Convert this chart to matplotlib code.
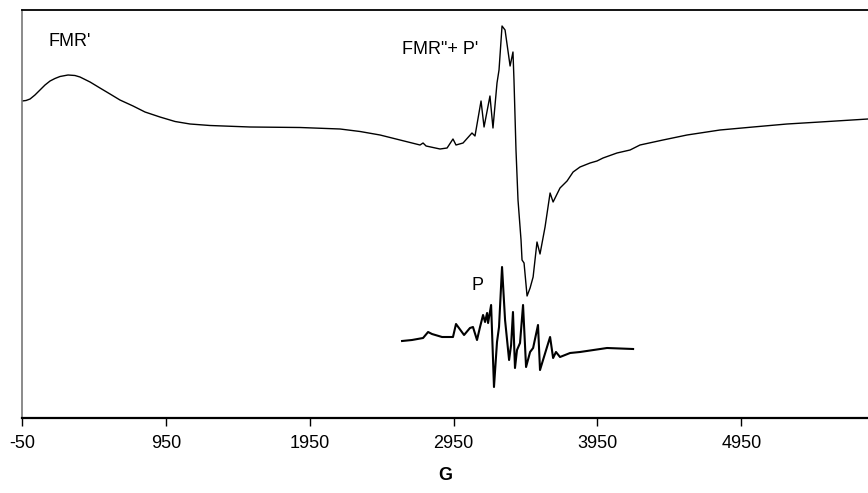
import matplotlib
matplotlib.use("Agg")
import matplotlib.pyplot as plt

# Main spectrum (FMR'' + P') : field (G) and intensity (arb. units)
main_field = [-50, -22, 6, 40, 75, 110, 145, 179, 214, 270, 318, 353, 388, 423,
              492, 562, 631, 722, 805, 909, 1014, 1118, 1257, 1535, 1883, 2161,
              2300, 2439, 2578, 2717, 2738, 2759, 2856, 2905, 2946, 2967, 3016,
              3078, 3099, 3141, 3162, 3203, 3224, 3252, 3266, 3287, 3308, 3343,
              3363, 3370, 3384, 3398, 3419, 3426, 3440, 3461, 3482, 3503, 3530,
              3551, 3586, 3621, 3642, 3690, 3739, 3781, 3829, 3899, 3947, 3989,
              4086, 4177, 4246, 4406, 4573, 4802, 5032, 5268, 5498, 5831]
main_int = [317, 317.5, 319, 323, 328, 333, 337, 339.5, 341.5, 343, 342.5, 341,
            338.5, 336, 330, 324, 318, 312, 306, 301, 296.5, 294, 292.5, 291,
            290.5, 289, 286.5, 283, 278, 273, 275, 272, 269, 270, 279, 273, 275,
            285, 282, 317, 291, 322, 290, 335, 348, 392, 388, 352,
            366, 338, 268, 218, 178, 158, 155, 122, 130, 141, 176,
            164, 191, 225, 216, 230, 237, 246, 251, 255, 257, 260,
            265, 268, 273, 278, 283, 288, 291, 294, 296, 299]

# Pure paramagnetic spectrum (P)
p_field = [2592, 2661, 2738, 2773, 2800, 2870, 2946, 2967, 3023, 3064, 3085,
           3113, 3134, 3155, 3169, 3183, 3190, 3211, 3231, 3252, 3266, 3287,
           3308, 3322, 3336, 3350, 3363, 3377, 3391, 3412, 3433, 3454, 3482,
           3503, 3537, 3551, 3572, 3621, 3642, 3662, 3690, 3760, 3829, 4017, 4198]
p_int = [77, 78, 80, 86, 84, 81, 81, 94, 83, 90, 91,
         78, 91, 103, 96, 105, 95, 113, 31, 76, 91, 151,
         98, 78, 58, 73, 106, 50, 68, 75, 113, 51, 66,
         70, 93, 48, 58, 81, 60, 66, 61, 65, 66, 70, 69]

x_ticks = [-50, 950, 1950, 2950, 3950, 4950]

FONT = "Liberation Sans"

fig = plt.figure(figsize=(8.68, 4.93), dpi=100)
ax = fig.add_axes([22/868, 75/493, 1 - 22/868, (418-10)/493])

ax.plot(main_field, main_int, color="black", lw=1.0)
ax.plot(p_field, p_int, color="black", lw=1.5)

ax.set_xlim(-50, 5831)
ax.set_ylim(0, 408)
ax.set_xticks(x_ticks)
ax.set_xticklabels([str(t) for t in x_ticks], fontsize=13, family=FONT)
ax.set_yticks([])
ax.tick_params(axis="x", direction="out", length=6, width=1, pad=6)
ax.spines["right"].set_visible(False)
ax.spines["left"].set_color("#777777")
ax.spines["left"].set_linewidth(1.2)
ax.spines["top"].set_linewidth(1.3)
ax.spines["bottom"].set_linewidth(1.6)

ax.set_xlabel("G", fontsize=13, fontweight="bold", family=FONT, labelpad=11)

ax.text(131, 376, "FMR'", fontsize=13, family=FONT, ha="left", va="center")
ax.text(2592, 369, "FMR\"+ P'", fontsize=13, family=FONT, ha="left", va="center")
ax.text(3113, 132, "P", fontsize=13, family=FONT, ha="center", va="center")

fig.savefig("out.png", dpi=100)
